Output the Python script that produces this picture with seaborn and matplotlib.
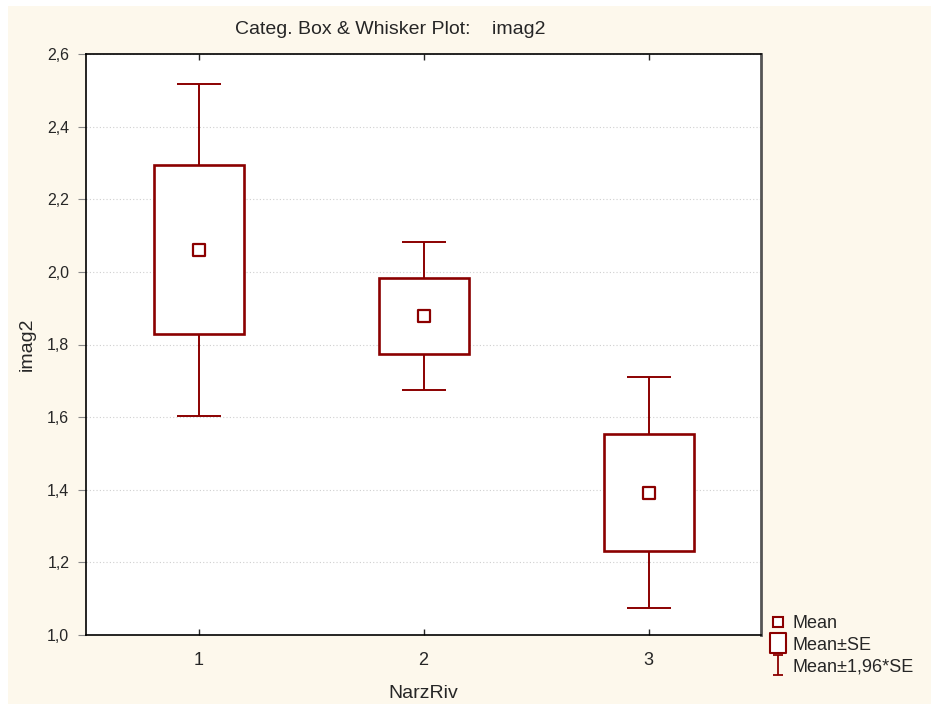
import numpy as np
import pandas as pd
import seaborn as sns
import matplotlib.pyplot as plt
from matplotlib.lines import Line2D
from matplotlib.path import Path
from matplotlib.patches import Rectangle
from matplotlib.ticker import FuncFormatter

# values
groups = ["1", "2", "3"]
means = [2.061, 1.878, 1.392]
se = [0.233, 0.104, 0.162]
y_ticks = [1.0, 1.2, 1.4, 1.6, 1.8, 2.0, 2.2, 2.4, 2.6]

df = pd.DataFrame({"NarzRiv": groups, "imag2": means, "se": se})
df["pos"] = np.arange(1, len(groups) + 1)

red = "#8b0000"
cream = "#fdf8ec"

sns.set_style("ticks")
plt.rcParams["font.family"] = ["Liberation Sans", "DejaVu Sans"]

fig = plt.figure(figsize=(9.31, 7.04), dpi=100)
fig.patch.set_facecolor("white")
fig.patches.append(Rectangle((8 / 931, 0), 1, 1 - 6 / 704, transform=fig.transFigure,
                             facecolor=cream, edgecolor="none", zorder=-10))

ax = fig.add_axes([86 / 931, 1 - 635 / 704, 675 / 931, 581 / 704])
ax.set_facecolor("white")

# whiskers: mean +- 1.96*SE
ax.errorbar(df["pos"], df["imag2"], yerr=1.96 * df["se"], fmt="none",
            ecolor=red, elinewidth=1.4, capsize=16, capthick=1.4, zorder=2)
# boxes: mean +- SE
ax.bar(df["pos"], 2 * df["se"], bottom=df["imag2"] - df["se"], width=0.4,
       facecolor="white", edgecolor=red, linewidth=1.9, zorder=3)
# mean markers
sns.scatterplot(data=df, x="pos", y="imag2", ax=ax, marker="s", s=64,
                facecolor="white", edgecolor=red, linewidth=1.6, zorder=4)

ax.set_xlim(0.5, 3.5)
ax.set_ylim(1.0, 2.6)
ax.set_xticks(df["pos"])
ax.set_xticklabels(groups)
ax.set_yticks(y_ticks)
ax.yaxis.set_major_formatter(FuncFormatter(lambda v, p: f"{v:.1f}".replace(".", ",")))
ax.grid(axis="y", color="#cfcfcf", linestyle=(0, (1, 2)), linewidth=0.8)
ax.set_axisbelow(True)

ax.tick_params(axis="y", direction="out", length=6, width=0.8, color="#888888",
               labelsize=11.5, pad=6)
ax.tick_params(axis="x", direction="in", length=4, width=1, top=True,
               labelsize=13, pad=12)
for side in ["left", "bottom", "top"]:
    ax.spines[side].set_color("black")
    ax.spines[side].set_linewidth(1.2)
ax.spines["right"].set_color("#555555")
ax.spines["right"].set_linewidth(2)

ax.set_xlabel("NarzRiv", fontsize=14, labelpad=12)
ax.set_ylabel("imag2", fontsize=14, labelpad=8)
fig.text(390 / 931, 1 - 30 / 704, "Categ. Box & Whisker Plot:    imag2",
         ha="center", va="center", fontsize=14)

# legend icons
cap = Path([(-0.5, 1), (0.5, 1), (0, 1), (0, -1), (-0.5, -1), (0.5, -1)],
           [Path.MOVETO, Path.LINETO, Path.MOVETO, Path.LINETO, Path.MOVETO, Path.LINETO])
tall_box = Path([(-0.38, -0.5), (0.38, -0.5), (0.38, 0.5), (-0.38, 0.5), (-0.38, -0.5)],
                [Path.MOVETO, Path.LINETO, Path.LINETO, Path.LINETO, Path.CLOSEPOLY])
handles = [
    Line2D([], [], ls="none", marker="s", ms=7, mfc="white", mec=red, mew=1.5),
    Line2D([], [], ls="none", marker=tall_box, ms=15, mfc="white", mec=red, mew=1.5),
    Line2D([], [], ls="none", marker=cap, ms=14, mfc="none", mec=red, mew=1.3),
]
fig.legend(handles, ["Mean", "Mean±SE", "Mean±1,96*SE"], loc="upper left",
           bbox_to_anchor=(760 / 931, 1 - 606 / 704), frameon=False, fontsize=13,
           handlelength=1.0, handletextpad=0.3, labelspacing=0.25, borderpad=0)

fig.savefig("out.png", dpi=100, facecolor=fig.get_facecolor())
